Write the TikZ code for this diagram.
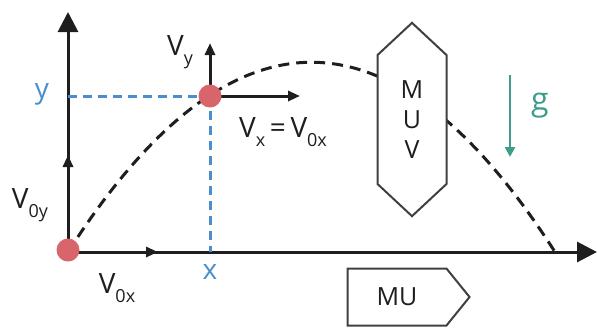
\documentclass[tikz,border=0pt]{standalone}
\usepackage{fontspec}
\setmainfont{Open Sans}
\usetikzlibrary{arrows.meta,shapes.symbols}
\definecolor{ink}{HTML}{1E1E1E}
\definecolor{dot}{HTML}{D8656C}
\definecolor{proj}{HTML}{4A8FCC}
\definecolor{grav}{HTML}{3F9C8B}
\newcommand{\vsub}[2]{#1\raisebox{-0.6ex}{\fontsize{9}{9}\selectfont #2}}

\begin{document}
\begin{tikzpicture}[
  x=0.5pt, y=-0.5pt,
  axis/.style={-{Triangle[length=10pt,width=10pt]}, line width=1.5pt, color=ink},
  vec/.style={-{Triangle[length=6pt,width=5pt]}, line width=1.5pt, color=ink},
  traj/.style={dash pattern=on 5.5pt off 3.5pt, line width=1.5pt, color=ink},
  guide/.style={dash pattern=on 4.5pt off 3pt, line width=1.5pt, color=proj},
  gvec/.style={-{Triangle[length=5pt,width=5pt]}, line width=1.2pt, color=grav},
  ball/.style={circle, fill=dot, minimum size=11.5pt, inner sep=0pt},
  lbl/.style={font=\fontsize{14}{14}\selectfont, text=ink},
  box/.style={signal, draw=ink!85, fill=white, line width=1pt, inner sep=0pt, text=ink, font=\fontsize{12.5}{14.8}\selectfont},
]
\useasboundingbox (0,0) rectangle (597,329);

\coordinate (o) at (68,252);
\coordinate (ytop) at (68,12);
\coordinate (xend) at (597,252);
\coordinate (v0x) at (158,252);
\coordinate (v0y) at (68,155);
\coordinate (land) at (555,252);
\coordinate (p) at (210,96);
\coordinate (px) at (210,252);
\coordinate (py) at (68,96);
\coordinate (vy) at (210,43);
\coordinate (vx) at (300,96);
\coordinate (gtop) at (510,75);
\coordinate (gbot) at (510,157);

% trajectory
\draw[traj] (o) .. controls (230,-1) and (393,-1) .. (land);

\node[box, signal to=north and south, signal pointer angle=94, minimum width=34.5pt, minimum height=75pt, align=center] (muv) at (412,119.5) {M\\U\\V};
\node[box, signal to=east, signal pointer angle=102, minimum width=61pt, minimum height=28.5pt] (mu) at (397,297) {MU};

\draw[axis] (o) -- (ytop);
\draw[axis] (o) -- (xend);
\draw[vec] (o) -- (v0x);
\draw[vec] (o) -- (v0y);

\draw[guide] (py) -- (p);
\draw[guide] (p) -- (px);
\draw[vec] (p) -- (vy);
\draw[vec] (p) -- (vx);

\draw[gvec] (gtop) -- (gbot);

\node[ball] (start) at (68,250) {};
\node[ball] (pos) at (p) {};

\node[lbl] (lv0y) at (30,205) {\vsub{V}{0y}};
\node[lbl] (lv0x) at (117,288) {\vsub{V}{0x}};
\node[lbl] (lvy) at (180,52) {\vsub{V}{y}};
\node[lbl] (lvx) at (283,132) {\vsub{V}{x}\,=\,\vsub{V}{0x}};
\node[lbl, text=proj] (ly) at (42,94) {y};
\node[lbl, text=proj] (lx) at (210,272) {x};
\node[font=\fontsize{16}{16}\selectfont, text=grav] (lg) at (540,106) {g};

\end{tikzpicture}
\end{document}
